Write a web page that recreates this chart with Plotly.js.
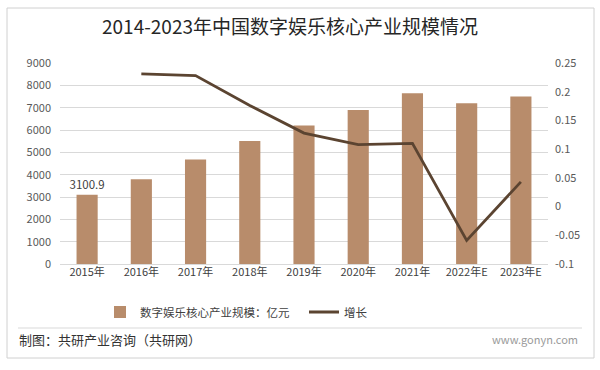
<!DOCTYPE html>
<html>
<head>
<meta charset="utf-8">
<script src="https://cdn.plot.ly/plotly-3.0.1.min.js"></script>
<style>
html,body{margin:0;padding:0;background:#fff;}
#chart{width:600px;height:370px;}
</style>
</head>
<body>
<div id="chart"></div>
<script>
const categories = ['2015年','2016年','2017年','2018年','2019年','2020年','2021年','2022年E','2023年E'];
const scaleValues = [3100.9, 3794, 4680, 5505, 6200, 6900, 7650, 7200, 7500];
const growthCats = ['2016年','2017年','2018年','2019年','2020年','2021年','2022年E','2023年E'];
const growthValues = [0.231, 0.228, 0.176, 0.128, 0.108, 0.110, -0.059, 0.043];
const rightTickVals = [-0.1, -0.05, 0, 0.05, 0.1, 0.15, 0.2, 0.25];
const rightTickText = ['-0.1', '-0.05', '0', '0.05', '0.1', '0.15', '0.2', '0.25'];
const barLabels = ['3100.9', '', '', '', '', '', '', '', ''];

const W = 600, H = 370, ML = 60, MR = 52, MT = 63, MB = 106;
const pw = W - ML - MR, ph = H - MT - MB;
const px = x => (x - ML) / pw;
const py = y => (H - MB - y) / ph;

const font = '"Noto Sans CJK SC", "Noto Sans", sans-serif';

const traces = [
  {
    type: 'bar', name: '数字娱乐核心产业规模：亿元',
    x: categories, y: scaleValues,
    marker: {color: '#b88c6b'},
    text: barLabels, textposition: 'outside', cliponaxis: false, constraintext: 'none',
    textfont: {family: font, size: 11.5, color: '#404040'},
    hoverinfo: 'x+y'
  },
  {
    type: 'scatter', mode: 'lines', name: '增长',
    x: growthCats, y: growthValues, yaxis: 'y2',
    line: {color: '#5b4431', width: 2.8}
  }
];

const layout = {
  width: W, height: H,
  margin: {l: ML, r: MR, t: MT, b: MB},
  paper_bgcolor: '#ffffff', plot_bgcolor: '#ffffff',
  font: {family: font, size: 11, color: '#595959'},
  title: {text: '2014-2023年中国数字娱乐核心产业规模情况', xref: 'container', x: 290 / W, xanchor: 'center', y: 1 - 27 / H, yanchor: 'middle',
          font: {family: font, size: 19, color: '#262626'}},
  bargap: 0.61,
  showlegend: true,
  legend: {orientation: 'h', x: px(100), xanchor: 'left', y: py(312), yanchor: 'middle',
           font: {family: font, size: 11.5, color: '#404040'}, traceorder: 'normal', entrywidth: 159},
  xaxis: {type: 'category', showline: false, ticks: '', tickfont: {family: font, size: 11, color: '#404040'},
          showgrid: false, zeroline: false},
  yaxis: {range: [0, 9000], dtick: 1000, showgrid: true, gridcolor: '#d9d9d9', gridwidth: 1,
          zeroline: true, zerolinecolor: '#d9d9d9', showline: false, ticks: '',
          tickfont: {family: font, size: 11, color: '#595959'}, ticklabelstandoff: 8},
  yaxis2: {overlaying: 'y', side: 'right', range: [-0.1, 0.25], tickvals: rightTickVals, ticktext: rightTickText,
           showgrid: false, zeroline: false, showline: false, ticks: '',
           tickfont: {family: font, size: 11, color: '#595959'}, ticklabelstandoff: 6},
  shapes: [
    {type: 'rect', xref: 'paper', yref: 'paper', x0: px(7), x1: px(594), y0: py(8), y1: py(358),
     line: {color: '#d0d0d0', width: 1}, fillcolor: 'rgba(0,0,0,0)', layer: 'below'},
    {type: 'line', xref: 'paper', yref: 'paper', x0: px(18), x1: px(582), y0: py(328), y1: py(328),
     line: {color: '#d9d9d9', width: 1}}
  ],
  annotations: [
    {text: '制图：共研产业咨询（共研网）', xref: 'paper', yref: 'paper', x: px(17), y: py(339),
     xanchor: 'left', yanchor: 'middle', showarrow: false, font: {family: font, size: 13, color: '#333333'}},
    {text: 'www.gonyn.com', xref: 'paper', yref: 'paper', x: px(580), y: py(339),
     xanchor: 'right', yanchor: 'middle', showarrow: false, font: {family: font, size: 11, color: '#9a9a9a'}}
  ]
};

Plotly.newPlot('chart', traces, layout, {displayModeBar: false, staticPlot: true});
</script>
</body>
</html>
